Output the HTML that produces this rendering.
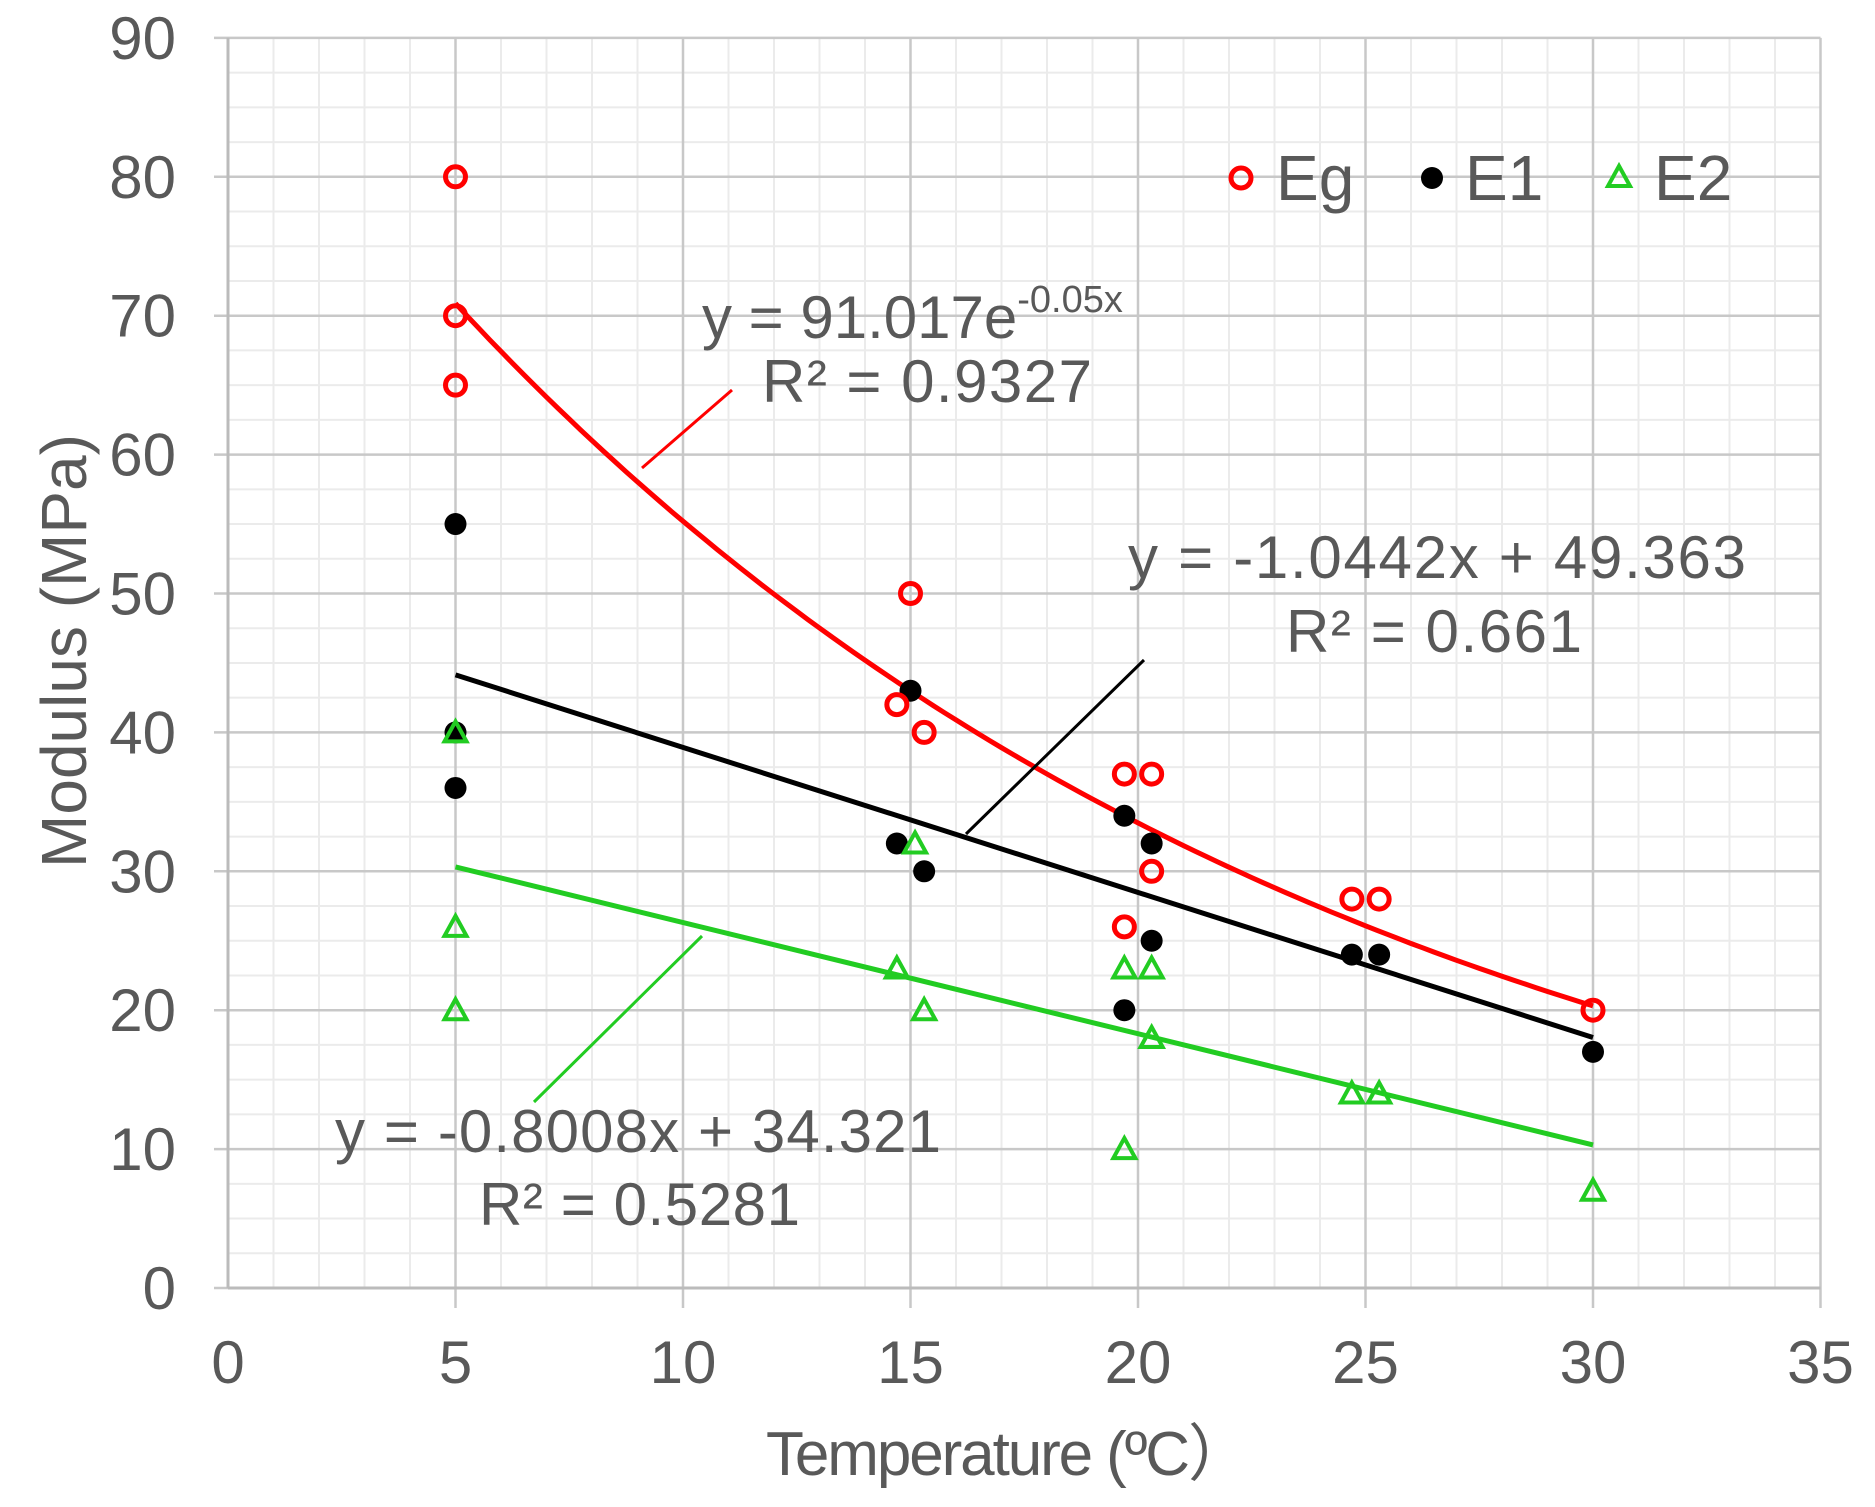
<!DOCTYPE html>
<html><head><meta charset="utf-8"><style>
html,body{margin:0;padding:0;background:#fff;}
svg{display:block;font-family:"Liberation Sans",Arial,sans-serif;}
</style></head><body>
<svg id="c" width="1875" height="1507" viewBox="0 0 1875 1507" xmlns="http://www.w3.org/2000/svg">
<g id="grid"></g>
<g id="lines"></g>
<g id="pts"></g>
<g fill="#595959" font-size="60">
<text x="702" y="338" font-size="60">y = 91.017e<tspan font-size="38" dy="-26">-0.05x</tspan></text>
<text x="762" y="402" textLength="330">R² = 0.9327</text>
<text x="1128" y="578" textLength="618">y = -1.0442x + 49.363</text>
<text x="1286" y="652" textLength="296">R² = 0.661</text>
<text x="335" y="1152" textLength="606">y = -0.8008x + 34.321</text>
<text x="479" y="1225" textLength="321">R² = 0.5281</text>
</g>
<g fill="#595959" font-size="64">
<text x="1276" y="200">Eg</text>
<text x="1465" y="200">E1</text>
<text x="1654" y="200">E2</text>
<text x="766" y="1475" font-size="62" textLength="484">Temperature (ºC）</text>
<text transform="translate(86,651) rotate(-90)" text-anchor="middle">Modulus (MPa)</text>
</g>
<circle cx="1241" cy="178" r="10" fill="none" stroke="#f00" stroke-width="5"/>
<circle cx="1432" cy="178" r="11" fill="#000"/>
<path d="M1619 166 L1630 186 L1608 186 Z" fill="none" stroke="#2c2" stroke-width="4"/>
</svg>
<script>
var X=v=>228+45.5*v, Y=v=>1288-13.89*v, NS="http://www.w3.org/2000/svg";
function el(p,t,a,txt){var e=document.createElementNS(NS,t);for(var k in a)e.setAttribute(k,a[k]);if(txt!=null)e.textContent=txt;document.getElementById(p).appendChild(e);return e;}
// minor grid
for(var i=1;i<=35;i++){if(i%5)el('grid','line',{x1:X(i),x2:X(i),y1:Y(90),y2:Y(0),stroke:'#ebebeb','stroke-width':2});}
for(var v=2.5;v<90;v+=2.5){if(v%10)el('grid','line',{x1:X(0),x2:X(35),y1:Y(v),y2:Y(v),stroke:'#ebebeb','stroke-width':2});}
// major grid
for(var i=5;i<=35;i+=5){el('grid','line',{x1:X(i),x2:X(i),y1:Y(90),y2:Y(0)+20,stroke:'#c8c8c8','stroke-width':2.5});
 el('grid','text',{x:X(i),y:1383,'font-size':60,fill:'#595959','text-anchor':'middle'},String(i));}
el('grid','text',{x:X(0),y:1383,'font-size':60,fill:'#595959','text-anchor':'middle'},'0');
for(var v=0;v<=90;v+=10){el('grid','line',{x1:X(0)-14,x2:X(35),y1:Y(v),y2:Y(v),stroke:'#c8c8c8','stroke-width':2.5});
 el('grid','text',{x:176,y:Y(v)+21,'font-size':60,fill:'#595959','text-anchor':'end'},String(v));}
el('grid','line',{x1:X(0),x2:X(0),y1:Y(90),y2:Y(0),stroke:'#bbb','stroke-width':3});
el('grid','line',{x1:X(0),x2:X(35),y1:Y(0),y2:Y(0),stroke:'#bbb','stroke-width':3});
// trend lines
var d='';for(var x=5;x<=30.001;x+=0.25){d+=(x==5?'M':'L')+X(x).toFixed(1)+' '+Y(91.017*Math.exp(-0.05*x)).toFixed(1);}
el('lines','path',{d:d,fill:'none',stroke:'#f00','stroke-width':5});
el('lines','line',{x1:X(5),y1:Y(-1.0442*5+49.363),x2:X(30),y2:Y(-1.0442*30+49.363),stroke:'#000','stroke-width':5});
el('lines','line',{x1:X(5),y1:Y(-0.8008*5+34.321),x2:X(30),y2:Y(-0.8008*30+34.321),stroke:'#2c2','stroke-width':5});
el('lines','line',{x1:642,y1:468,x2:732,y2:390,stroke:'#f00','stroke-width':3});
el('lines','line',{x1:966,y1:834,x2:1144,y2:660,stroke:'#000','stroke-width':3});
el('lines','line',{x1:534,y1:1102,x2:702,y2:936,stroke:'#2c2','stroke-width':3});
// points
var E2=[[5,40],[5,26],[5,20],[14.7,23],[15.1,32],[15.3,20],[19.7,23],[20.3,23],[20.3,18],[19.7,10],[24.7,14],[25.3,14],[30,7]];
var E1=[[5,55],[5,40],[5,36],[14.7,32],[15,43],[15.3,30],[19.7,34],[20.3,32],[20.3,25],[19.7,20],[24.7,24],[25.3,24],[30,17]];
var Eg=[[5,80],[5,70],[5,65],[14.7,42],[15,50],[15.3,40],[19.7,37],[20.3,37],[20.3,30],[19.7,26],[24.7,28],[25.3,28],[30,20]];
E1.forEach(p=>el('pts','circle',{cx:X(p[0]),cy:Y(p[1]),r:11,fill:'#000'}));
E2.forEach(p=>{var x=X(p[0]),y=Y(p[1]);el('pts','path',{d:'M'+x+' '+(y-11)+' L'+(x+11)+' '+(y+9)+' L'+(x-11)+' '+(y+9)+' Z',fill:'none',stroke:'#2c2','stroke-width':4});});
Eg.forEach(p=>el('pts','circle',{cx:X(p[0]),cy:Y(p[1]),r:10,fill:'none',stroke:'#f00','stroke-width':5}));
</script>
</body></html>
